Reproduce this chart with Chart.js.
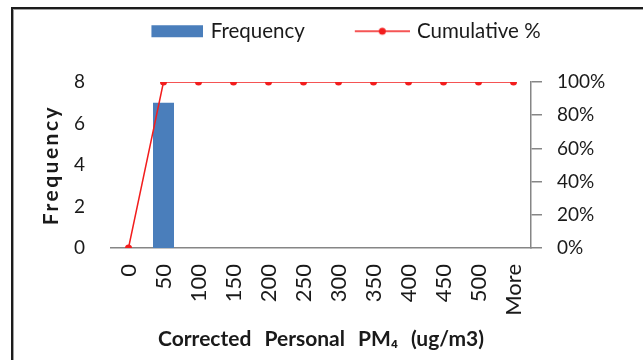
<!DOCTYPE html>
<html>
<head>
<meta charset="utf-8">
<script src="https://cdn.jsdelivr.net/npm/chart.js@4/dist/chart.umd.min.js"></script>
<style>
  html, body { margin: 0; padding: 0; background: #fff; }
  #wrap { position: relative; width: 643px; height: 360px; overflow: hidden; background: #fff; }
  #frame { position: absolute; left: 11px; top: 7px; width: 700px; height: 400px;
           border-left: 2px solid #1c1c1c; border-top: 2px solid #1c1c1c;
           box-shadow: inset 1px 1px 0 #a0a0a0; }
  canvas { position: absolute; left: 0; top: 0; }
</style>
</head>
<body>
<div id="wrap">
  <div id="frame"></div>
  <canvas id="c" width="643" height="360"></canvas>
</div>
<script>
// Histogram bins (upper bin edges) and results
const categories = ['0', '50', '100', '150', '200', '250', '300', '350', '400', '450', '500', 'More'];
const frequency = [0, 7, 0, 0, 0, 0, 0, 0, 0, 0, 0, 0];
const cumulativePercent = [0, 100, 100, 100, 100, 100, 100, 100, 100, 100, 100, 100];
const seriesNames = ['Frequency', 'Cumulative %'];
const axisTitles = { x: 'Corrected Personal PM\u2084 (ug/m3)', y: 'Frequency' };

const BLUE = '#4A7EBB';
const RED = '#F21D1D';
const AXIS = '#868686';
const TEXT = '#1a1a1a';
const FONT = 'Lato';

// Legend swatches: a bar block and a line with a marker
function makeSwatch(w, h, paint) {
  const c = document.createElement('canvas');
  c.width = w; c.height = h;
  paint(c.getContext('2d'));
  return c;
}
const swatches = [
  makeSwatch(96, 14, g => { g.fillStyle = BLUE; g.fillRect(44, 1, 52, 12); }),
  makeSwatch(96, 14, g => {
    g.strokeStyle = RED; g.lineWidth = 1.5;
    g.beginPath(); g.moveTo(41, 7); g.lineTo(96, 7); g.stroke();
    g.fillStyle = RED; g.beginPath(); g.arc(68.5, 7, 3.5, 0, Math.PI * 2); g.fill();
  })
];

// Wraps a scale's title drawing so the title can use extra letter / word spacing
function spaceTitle(scale, letter, word) {
  if (!scale || scale._spaced) return;
  const drawTitle = scale.drawTitle;
  scale.drawTitle = function () {
    const ctx = this.ctx;
    ctx.save();
    ctx.letterSpacing = letter;
    ctx.wordSpacing = word;
    drawTitle.apply(this, arguments);
    ctx.restore();
  };
  scale._spaced = true;
}

const layoutTweaks = {
  id: 'layoutTweaks',
  beforeLayout(chart) {
    const lg = chart.legend;
    if (lg && !lg._gapAdded) {
      const fit = lg.fit;
      lg.fit = function () { fit.apply(this, arguments); this.height += 30.5; };
      lg._gapAdded = true;
    }
  },
  afterLayout(chart) {
    spaceTitle(chart.scales.y, '2.5px', '0px');
    spaceTitle(chart.scales.x, '0px', '8px');
  }
};

new Chart(document.getElementById('c'), {
  data: {
    labels: categories,
    datasets: [
      {
        type: 'bar',
        label: seriesNames[0],
        data: frequency,
        yAxisID: 'y',
        backgroundColor: BLUE,
        borderWidth: 0,
        categoryPercentage: 1,
        barPercentage: 0.6,
        order: 1
      },
      {
        type: 'line',
        label: seriesNames[1],
        data: cumulativePercent,
        yAxisID: 'y2',
        borderColor: RED,
        backgroundColor: RED,
        borderWidth: 1.5,
        pointRadius: 3.5,
        pointBackgroundColor: RED,
        pointBorderWidth: 0,
        tension: 0,
        order: 0
      }
    ]
  },
  options: {
    responsive: false,
    devicePixelRatio: 1,
    animation: false,
    layout: { padding: { top: 9, left: 8, right: 0, bottom: 0 } },
    plugins: {
      tooltip: { enabled: false },
      legend: {
        position: 'top',
        labels: {
          usePointStyle: true,
          pointStyleWidth: 90,
          padding: 12,
          color: TEXT,
          font: { family: FONT, size: 20.5 },
          generateLabels(chart) {
            const items = Chart.defaults.plugins.legend.labels.generateLabels(chart);
            items.sort((a, b) => a.datasetIndex - b.datasetIndex);
            items.forEach(it => { it.pointStyle = swatches[it.datasetIndex]; it.fontColor = TEXT; });
            return items;
          }
        }
      }
    },
    scales: {
      x: {
        offset: true,
        grid: { display: false, drawTicks: false },
        border: { display: true, color: AXIS, width: 1.5 },
        ticks: {
          autoSkip: false, minRotation: 90, maxRotation: 90, padding: 16,
          color: TEXT, font: { family: FONT, size: 22 }
        },
        title: {
          display: true, text: axisTitles.x, color: TEXT,
          font: { family: FONT, size: 21, weight: 'bold' },
          padding: { top: 0, bottom: 8.4 }
        },
        afterFit(s) { s.height = 112; }
      },
      y: {
        position: 'left',
        min: 0, max: 8,
        grid: { display: false, drawTicks: false },
        border: { display: false },
        ticks: { stepSize: 2, padding: 26, color: TEXT, font: { family: FONT, size: 19 } },
        title: {
          display: true, text: axisTitles.y, color: TEXT,
          font: { family: FONT, size: 21, weight: 'bold' },
          padding: { top: 31, bottom: 0 }
        },
        afterFit(s) { s.width = 103; }
      },
      y2: {
        position: 'right',
        min: 0, max: 100,
        grid: { display: true, drawOnChartArea: false, drawTicks: true, tickLength: 11, color: AXIS, lineWidth: 1.5 },
        border: { display: true, color: AXIS, width: 1.5 },
        ticks: {
          stepSize: 20, padding: 15, color: TEXT, font: { family: FONT, size: 19 },
          callback: v => v + '%'
        },
        afterFit(s) { s.width = 112; }
      }
    }
  },
  plugins: [layoutTweaks]
});
</script>
</body>
</html>
